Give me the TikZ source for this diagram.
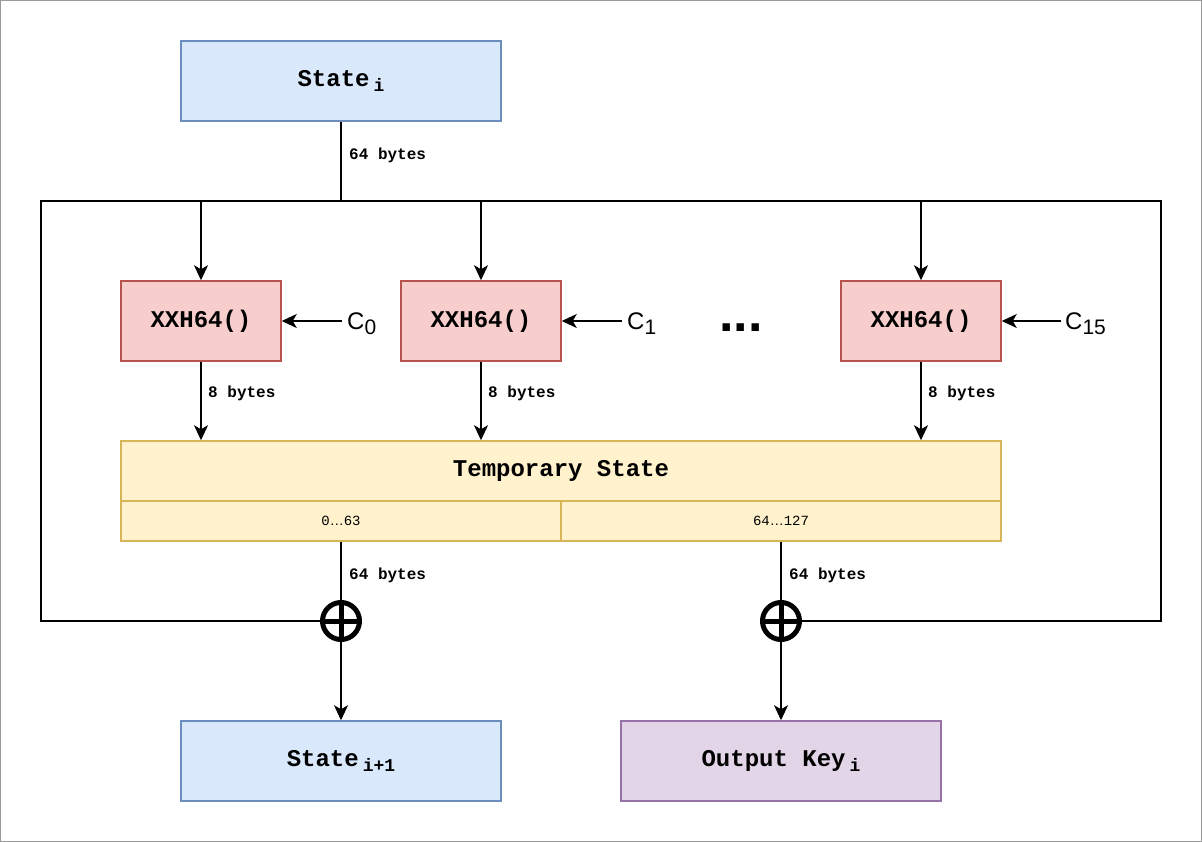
\documentclass[tikz,border=0pt]{standalone}
\usepackage{fontspec}
\setmainfont{Liberation Sans}
\setmonofont{Liberation Mono}
\usetikzlibrary{arrows.meta}

\definecolor{bluefill}{HTML}{DAE8FC}
\definecolor{blueline}{HTML}{6C8EBF}
\definecolor{redfill}{HTML}{F8CECC}
\definecolor{redline}{HTML}{B85450}
\definecolor{yellowfill}{HTML}{FFF2CC}
\definecolor{yellowline}{HTML}{D6B656}
\definecolor{purplefill}{HTML}{E1D5E7}
\definecolor{purpleline}{HTML}{9673A6}
\definecolor{pageline}{HTML}{9A9A9A}

\newcommand{\lowidx}[1]{\hspace{4pt}\raisebox{-5pt}{\fontsize{18}{18}\selectfont #1}}
\newcommand{\csub}[1]{\raisebox{-5pt}{\fontsize{21}{21}\selectfont #1}}

\begin{document}
\begin{tikzpicture}[x=1pt, y=-1pt,
    box/.style={draw, line width=1.5pt, inner sep=0pt, font=\fontsize{24}{28}\selectfont\ttfamily\bfseries},
    bigbox/.style={box, minimum width=320pt, minimum height=80pt},
    hashbox/.style={box, minimum width=160pt, minimum height=80pt, fill=redfill, draw=redline},
    cell/.style={box, fill=yellowfill, draw=yellowline, minimum width=440pt, minimum height=40pt, font=\fontsize{14}{16}\selectfont\ttfamily},
    wire/.style={line width=1.5pt},
    arr/.style={wire, -{Stealth[length=15pt, width=14pt, inset=4pt]}},
    note/.style={anchor=west, inner sep=0pt, font=\fontsize{16}{18}\selectfont\ttfamily\bfseries},
    cval/.style={anchor=base west, inner xsep=5pt, inner ysep=0pt, font=\fontsize{24}{26}\selectfont},
    xorop/.style={draw, circle, line width=5pt, minimum size=37pt, inner sep=0pt}
  ]
  \useasboundingbox (0,0) rectangle (1202,842);
  \draw[pageline, line width=1pt] (0.5,0.5) rectangle (1201.5,841.5);

  \node[bigbox, fill=bluefill, draw=blueline] (si) at (341,81) {State\lowidx{i}};

  \node[hashbox] (h0) at (201,321) {XXH64()};
  \node[hashbox] (h1) at (481,321) {XXH64()};
  \node[hashbox] (h15) at (921,321) {XXH64()};
  \node[cval] (c0) at (342,330) {C\csub{0}};
  \node[cval] (c1) at (622,330) {C\csub{1}};
  \node[cval, inner xsep=4pt] (c15) at (1061,330) {C\csub{15}};
  \node[anchor=base, inner sep=0pt, font=\fontsize{52}{54}\selectfont\bfseries] (dots) at (741,331) {...};

  \node[box, fill=yellowfill, draw=yellowline, minimum width=880pt, minimum height=60pt] (ts) at (561,471) {Temporary State};
  \node[cell] (lo) at (341,521) {0{\rmfamily …}63};
  \node[cell] (hi) at (781,521) {64{\rmfamily …}127};

  \node[xorop] (xa) at (341,621) {};
  \node[xorop] (xb) at (781,621) {};

  \node[bigbox, fill=bluefill, draw=blueline] (sn) at (341,761) {State\lowidx{i+1}};
  \node[bigbox, fill=purplefill, draw=purpleline] (ok) at (781,761) {Output Key\lowidx{i}};

  \coordinate (top) at (341,201);
  \coordinate (ftl) at (41,201);
  \coordinate (ftr) at (1161,201);
  \coordinate (fbl) at (41,621);
  \coordinate (fbr) at (1161,621);

  \draw[wire] (si) -- (top);
  \draw[wire] (xa) -- (fbl) -- (ftl) -- (ftr) -- (fbr) -- (xb);
  \foreach \h in {h0,h1,h15} {
    \draw[arr] (\h |- ftl) -- (\h);
    \draw[arr] (\h) -- (\h |- ts.north);
  }
  \draw[arr] (c0.west |- h0) -- (h0.east);
  \draw[arr] (c1.west |- h1) -- (h1.east);
  \draw[arr] (c15.west |- h15) -- (h15.east);

  \draw[wire] (lo) -- (xa);
  \draw[wire] (lo.south -| hi) -- (xb);
  \draw[line width=5pt] (xa.north) -- (xa.south) (xa.west) -- (xa.east);
  \draw[line width=5pt] (xb.north) -- (xb.south) (xb.west) -- (xb.east);
  \draw[arr] (xa) -- (sn);
  \draw[arr] (xb) -- (ok);

  \node[note] (l1) at (349,155) {64 bytes};
  \node[note] (l2) at (208,393) {8 bytes};
  \node[note] (l3) at (488,393) {8 bytes};
  \node[note] (l4) at (928,393) {8 bytes};
  \node[note] (l5) at (349,575) {64 bytes};
  \node[note] (l6) at (789,575) {64 bytes};
\end{tikzpicture}
\end{document}
